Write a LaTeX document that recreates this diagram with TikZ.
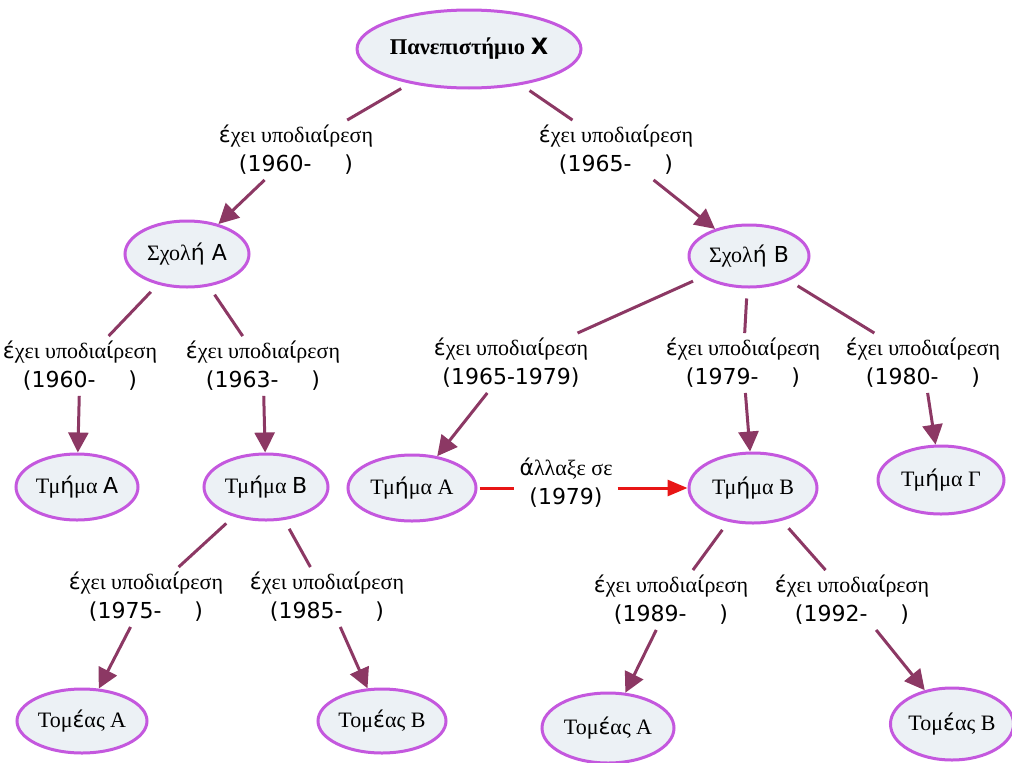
\documentclass[tikz,border=0pt]{standalone}
\usepackage{fontspec}
\setmainfont{Liberation Serif}
\newfontfamily\dvs{DejaVu Sans}
\newcommand\sv[1]{{\dvs #1}}
\usetikzlibrary{arrows.meta,shapes.geometric}
\definecolor{cborder}{RGB}{196,88,222}
\definecolor{cfill}{RGB}{236,241,245}
\definecolor{clink}{RGB}{140,56,100}
\definecolor{cred}{RGB}{232,22,22}
\tikzset{
  concept/.style={ellipse, draw=cborder, fill=cfill, line width=3pt, inner sep=0pt,
    font=\fontsize{22}{26}\selectfont},
  lbl/.style={align=center, inner sep=5pt, font=\fontsize{22}{29}\selectfont},
  link/.style={draw=clink, line width=3pt, shorten <=10pt},
  arr/.style={draw=clink, line width=3pt, -{Triangle[length=20pt,width=20pt]}},
  rlink/.style={draw=cred, line width=3pt, shorten <=2pt},
  rarr/.style={draw=cred, line width=3pt, -{Triangle[length=20pt,width=16pt]}},
}
\newcommand\ex{\sv{έ}χει υποδια\sv{ί}ρεση}
\newcommand\yr[1]{\sv{(#1-\hspace{1.5em})}}
\begin{document}
\begin{tikzpicture}[x=1pt,y=-1pt]
\useasboundingbox (0,0) rectangle (1012,763);
% concepts
\node[concept, minimum width=194pt, minimum height=78pt, font=\fontsize{22.5}{26}\selectfont\bfseries] (U) at (469,49) {Πανεπιστήμιο \sv{X}};
\node[concept, minimum width=124pt, minimum height=66pt] (SA) at (187,254) {Σχολ\sv{ή A}};
\node[concept, minimum width=120pt, minimum height=62pt] (SB) at (749,256) {Σχολ\sv{ή B}};
\node[concept, minimum width=122pt, minimum height=66pt] (TA1) at (77,487) {Τμ\sv{ή}μα \sv{A}};
\node[concept, minimum width=124pt, minimum height=66pt] (TB1) at (266,487) {Τμ\sv{ή}μα \sv{B}};
\node[concept, minimum width=128pt, minimum height=66pt] (TA2) at (412,488) {Τμ\sv{ή}μα A};
\node[concept, minimum width=128pt, minimum height=70pt] (TB2) at (753,488) {Τμ\sv{ή}μα B};
\node[concept, minimum width=126pt, minimum height=68pt] (TG) at (941,480) {Τμ\sv{ή}μα Γ};
\node[concept, minimum width=130pt, minimum height=64pt] (OA1) at (82,721) {Τομ\sv{έ}ας A};
\node[concept, minimum width=128pt, minimum height=64pt] (OB1) at (382,721) {Τομ\sv{έ}ας B};
\node[concept, minimum width=132pt, minimum height=70pt] (OA2) at (608,728) {Τομ\sv{έ}ας A};
\node[concept, minimum width=122pt, minimum height=72pt] (OB2) at (952,724) {Τομ\sv{έ}ας B};
% labels
\node[lbl] (L1) at (296,150) {\ex\\\yr{1960}};
\node[lbl] (L2) at (616,150) {\ex\\\yr{1965}};
\node[lbl] (L3) at (80,366) {\ex\\\yr{1960}};
\node[lbl] (L4) at (263,366) {\ex\\\yr{1963}};
\node[lbl] (L5) at (511,363) {\ex\\\sv{(1965-1979)}};
\node[lbl] (L6) at (743,363) {\ex\\\yr{1979}};
\node[lbl] (L7) at (923,363) {\ex\\\yr{1980}};
\node[lbl] (LC) at (566,483) {\sv{ά}λλαξε σε\\\sv{(1979)}};
\node[lbl] (L8) at (146,597) {\ex\\\yr{1975}};
\node[lbl] (L9) at (327,597) {\ex\\\yr{1985}};
\node[lbl] (L10) at (671,600) {\ex\\\yr{1989}};
\node[lbl] (L11) at (852,600) {\ex\\\yr{1992}};
% connectors
\draw[link] (U) -- (L1);  \draw[arr] (L1) -- (SA);
\draw[link] (U) -- (L2);  \draw[arr] (L2) -- (SB);
\draw[link] (SA) -- (L3); \draw[arr] (L3) -- (TA1);
\draw[link] (SA) -- (L4); \draw[arr] (L4) -- (TB1);
\draw[link] (SB) -- (L5); \draw[arr] (L5) -- (TA2);
\draw[link] (SB) -- (L6); \draw[arr] (L6) -- (TB2);
\draw[link] (SB) -- (L7); \draw[arr] (L7) -- (TG);
\draw[link] (TB1) -- (L8); \draw[arr] (L8) -- (OA1);
\draw[link] (TB1) -- (L9); \draw[arr] (L9) -- (OB1);
\draw[link] (TB2) -- (L10); \draw[arr] (L10) -- (OA2);
\draw[link] (TB2) -- (L11); \draw[arr] (L11) -- (OB2);
\draw[rlink] (TA2) -- (TA2 -| LC.west);
\draw[rarr] (LC.east |- TB2) -- (TB2);
\end{tikzpicture}
\end{document}
